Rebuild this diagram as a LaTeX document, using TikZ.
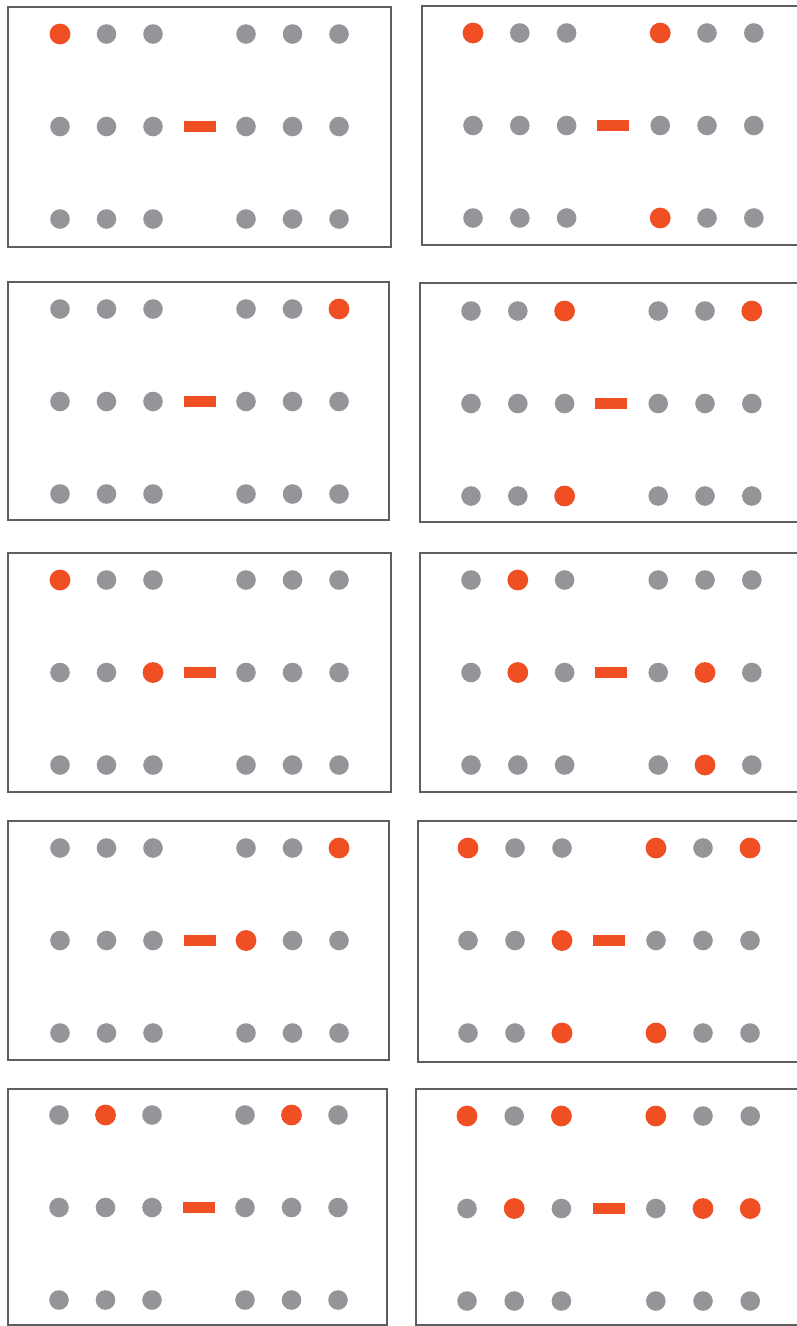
\documentclass[tikz,border=0pt]{standalone}
\usepackage{xcolor}
\usepackage{tikz}

\definecolor{dotgray}{HTML}{939598}
\definecolor{dotred}{HTML}{F04E23}
\definecolor{edge}{HTML}{5C5F61}

% one panel: frame corners, first dot, column step, red dots as slot/row
\newcommand{\dotpanel}[8]{%
  \draw[box] (#1,#2) rectangle (#3,#4);
  \foreach \r in {0,1,2}
    \foreach \c in {0,1,2,4,5,6}
      \fill[gdot] ({#5+\c*#7},{#6+\r*92.5}) circle[radius=9.8pt];
  \fill[minus] ({#5+3*#7-16},{#6+92.5-5.5}) rectangle ++(32,11);
  \foreach \c/\r in {#8}
    \fill[rdot] ({#5+\c*#7},{#6+\r*92.5}) circle[radius=10.4pt];
}

\begin{document}
\begin{tikzpicture}[x=1pt, y=-1pt,
    box/.style={draw=edge, line width=1.5pt},
    gdot/.style={fill=dotgray},
    rdot/.style={fill=dotred},
    minus/.style={fill=dotred}]
  \useasboundingbox (0,0) rectangle (796,1326);
  % row 1
  \dotpanel{8}{7}{391}{247}{60}{34}{46.5}{0/0}
  \dotpanel{422}{6}{802}{245}{473}{33}{46.8}{0/0, 4/0, 4/2}
  % row 2
  \dotpanel{8}{282}{389}{520}{60}{309}{46.5}{6/0}
  \dotpanel{420}{283}{802}{522}{471}{311}{46.8}{2/0, 6/0, 2/2}
  % row 3
  \dotpanel{8}{553}{391}{792}{60}{580}{46.5}{0/0, 2/1}
  \dotpanel{420}{553}{802}{792}{471}{580}{46.8}{1/0, 1/1, 5/1, 5/2}
  % row 4
  \dotpanel{8}{821}{389}{1060}{60}{848}{46.5}{6/0, 4/1}
  \dotpanel{418}{821}{802}{1062}{468}{848}{47}{0/0, 4/0, 6/0, 2/1, 2/2, 4/2}
  % row 5
  \dotpanel{8}{1089}{387}{1325}{59}{1115}{46.5}{1/0, 5/0}
  \dotpanel{416}{1089}{802}{1325}{467}{1116}{47.2}{0/0, 2/0, 4/0, 1/1, 5/1, 6/1}
\end{tikzpicture}
\end{document}
